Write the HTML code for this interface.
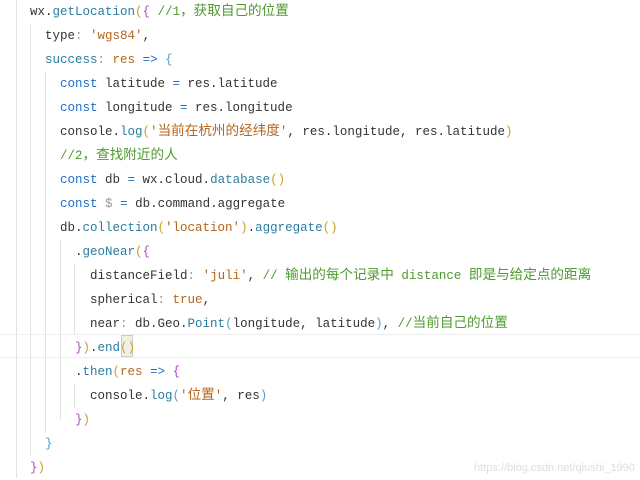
<!DOCTYPE html><html><head><meta charset="utf-8"><style>
body{margin:0;width:640px;height:478px;background:#fff;overflow:hidden;position:relative;font-family:"Liberation Mono","Noto Sans CJK SC",monospace;font-size:12.5px;color:#333}
.l{position:absolute;white-space:pre;height:24px;line-height:24px}
.k{color:#1f6fc4}.f{color:#2a7da0}.s{color:#b5651d}.c{color:#4f9a2e}.p{color:#b04ac0}.y{color:#c9a227}.b{color:#4fa0d8}.g{color:#999}.t{color:#b5651d}
.z{font-size:13.6px}
.v{position:absolute;width:1px;background:#e2e2e2}
</style></head><body>
<div class="v" style="left:16px;top:0;height:478px"></div>
<div class="v" style="left:30px;top:24px;height:432px"></div>
<div class="v" style="left:45px;top:71px;height:362px"></div>
<div class="v" style="left:60px;top:240px;height:180px"></div>
<div class="v" style="left:74px;top:263px;height:72px"></div>
<div class="v" style="left:74px;top:384px;height:24px"></div>
<div style="position:absolute;left:0;top:334px;width:640px;height:22px;border-top:1px solid #eee;border-bottom:1px solid #eee"></div>
<div style="position:absolute;left:121px;top:335px;width:10px;height:20px;background:#f0f0e4;border:1px solid #ccc"></div>
<div class="l" style="left:30px;top:0">wx.<span class="f">getLocation</span><span class="y">(</span><span class="p">{</span> <span class="c">//1<span class="z">，获取自己的位置</span></span></div>
<div class="l" style="left:45px;top:24px">type<span class="g">:</span> <span class="s">'wgs84'</span>,</div>
<div class="l" style="left:45px;top:48px"><span class="f">success</span><span class="g">:</span> <span class="t">res</span> <span class="k">=&gt;</span> <span class="b">{</span></div>
<div class="l" style="left:60px;top:72px"><span class="k">const</span> latitude <span class="k">=</span> res.latitude</div>
<div class="l" style="left:60px;top:96px"><span class="k">const</span> longitude <span class="k">=</span> res.longitude</div>
<div class="l" style="left:60px;top:120px">console.<span class="f">log</span><span class="y">(</span><span class="s">'<span class="z">当前在杭州的经纬度</span>'</span>, res.longitude, res.latitude<span class="y">)</span></div>
<div class="l" style="left:60px;top:144px"><span class="c">//2<span class="z">，查找附近的人</span></span></div>
<div class="l" style="left:60px;top:168px"><span class="k">const</span> db <span class="k">=</span> wx.cloud.<span class="f">database</span><span class="y">()</span></div>
<div class="l" style="left:60px;top:192px"><span class="k">const</span> <span class="g">$</span> <span class="k">=</span> db.command.aggregate</div>
<div class="l" style="left:60px;top:216px">db.<span class="f">collection</span><span class="y">(</span><span class="s">'location'</span><span class="y">)</span>.<span class="f">aggregate</span><span class="y">()</span></div>
<div class="l" style="left:75px;top:240px">.<span class="f">geoNear</span><span class="y">(</span><span class="p">{</span></div>
<div class="l" style="left:90px;top:264px">distanceField<span class="g">:</span> <span class="s">'juli'</span>, <span class="c">// <span class="z">输出的每个记录中</span> distance <span class="z">即是与给定点的距离</span></span></div>
<div class="l" style="left:90px;top:288px">spherical<span class="g">:</span> <span class="t">true</span>,</div>
<div class="l" style="left:90px;top:312px">near<span class="g">:</span> db.Geo.<span class="f">Point</span><span class="b">(</span>longitude, latitude<span class="b">)</span>, <span class="c">//<span class="z">当前自己的位置</span></span></div>
<div class="l" style="left:75px;top:336px"><span class="p">}</span><span class="y">)</span>.<span class="f">end</span><span class="y">()</span></div>
<div class="l" style="left:75px;top:360px">.<span class="f">then</span><span class="y">(</span><span class="t">res</span> <span class="k">=&gt;</span> <span class="p">{</span></div>
<div class="l" style="left:90px;top:384px">console.<span class="f">log</span><span class="b">(</span><span class="s">'<span class="z">位置</span>'</span>, res<span class="b">)</span></div>
<div class="l" style="left:75px;top:408px"><span class="p">}</span><span class="y">)</span></div>
<div class="l" style="left:45px;top:432px"><span class="b">}</span></div>
<div class="l" style="left:30px;top:456px"><span class="p">}</span><span class="y">)</span></div>
<div class="l" style="left:474px;top:456px;font-family:'Liberation Sans',sans-serif;font-size:11px;color:#ddd">https://blog.csdn.net/qiushi_1990</div>
</body></html>
